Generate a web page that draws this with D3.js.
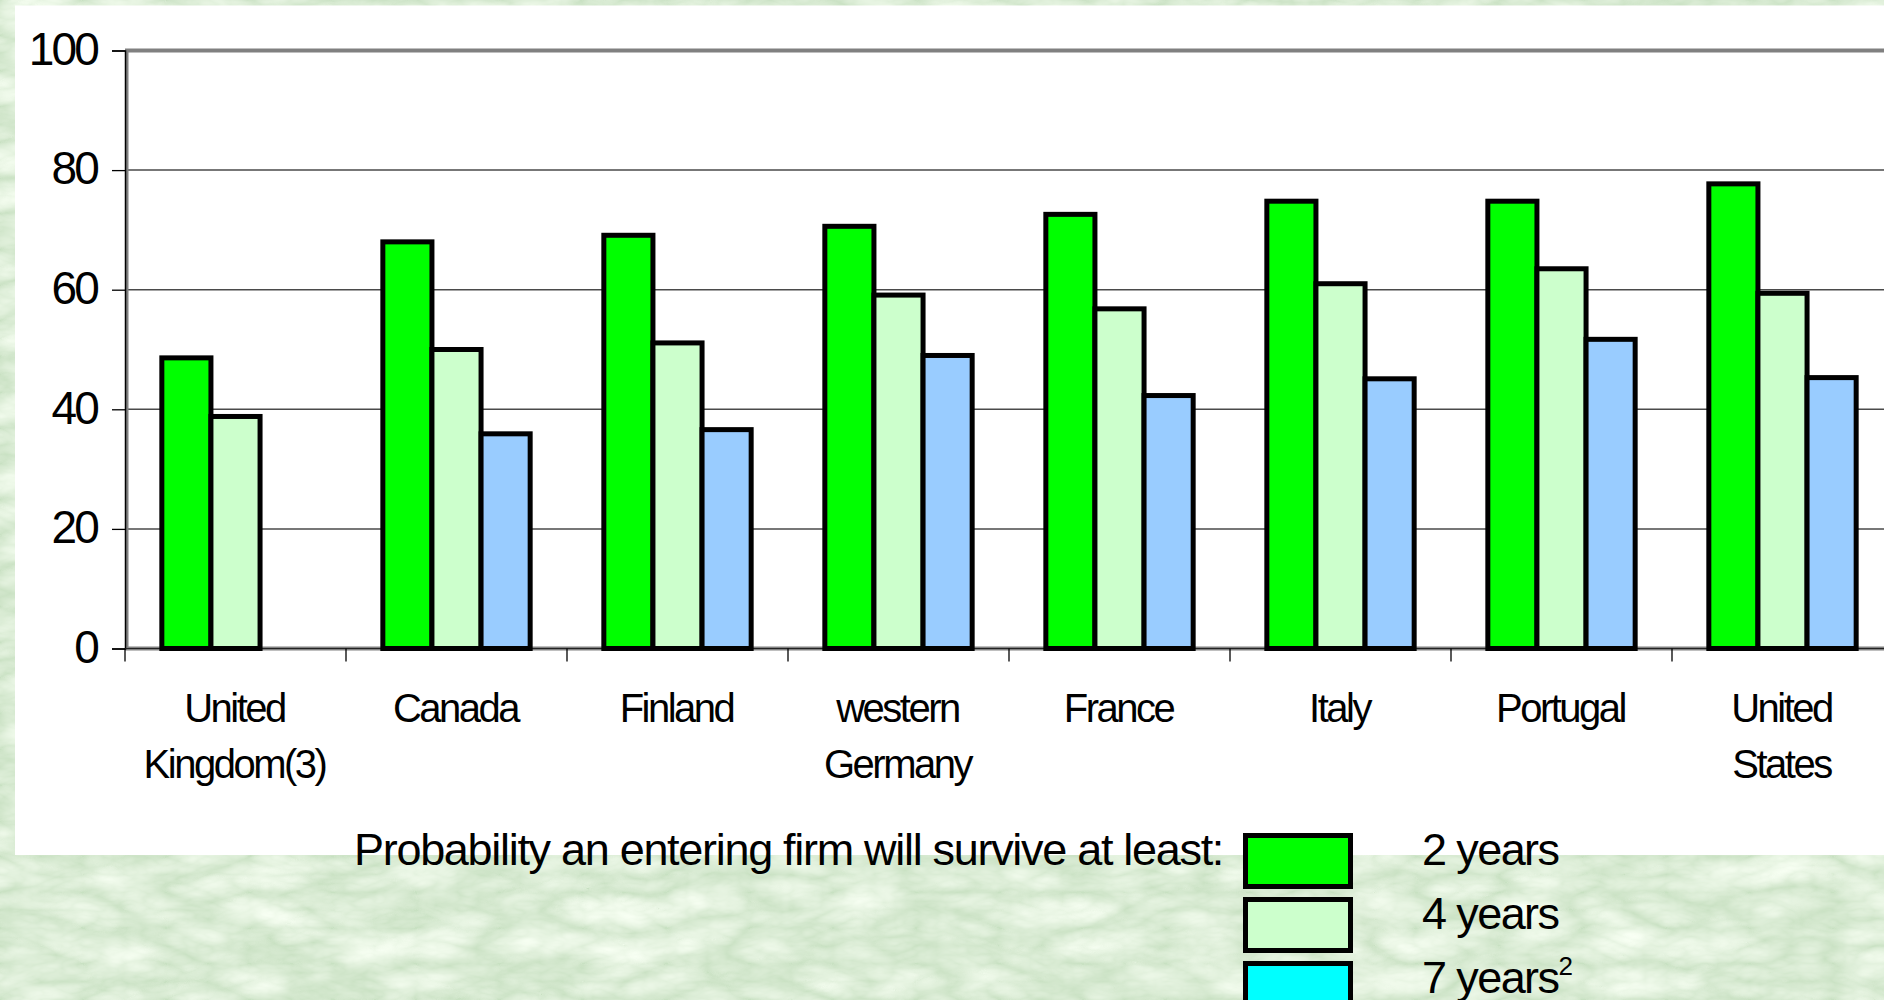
<!DOCTYPE html>
<html>
<head>
<meta charset="utf-8">
<script src="https://cdn.jsdelivr.net/npm/d3@7"></script>
<style>
  html, body { margin: 0; padding: 0; overflow: hidden; background: #b4d4aa; }
  svg { display: block; font-family: "Liberation Sans", Arial, sans-serif; }
</style>
</head>
<body>
<script>
// Survival probabilities of entering firms, by country (percent)
const categories = ["United Kingdom(3)", "Canada", "Finland", "western Germany",
                    "France", "Italy", "Portugal", "United States"];
const series = ["2 years", "4 years", "7 years"];
const surv2 = [48.6, 68.0, 69.1, 70.6, 72.6, 74.8, 74.8, 77.7];
const surv4 = [38.8, 50.0, 51.1, 59.1, 56.8, 61.0, 63.5, 59.4];
const surv7 = [null, 35.9, 36.6, 49.0, 42.3, 45.1, 51.7, 45.3];
const yTicks = [0, 20, 40, 60, 80, 100];
const barColors = ["#00ff00", "#ccffcc", "#99ccff"];
const legendColors = ["#00ff00", "#ccffcc", "#00ffff"];
const legendTitle = "Probability an entering firm will survive at least:";

const values = [surv2, surv4, surv7];
const W = 1884, H = 1000;

const svg = d3.select("body").append("svg").attr("width", W).attr("height", H);

// marbled green backdrop
const defs = svg.append("defs");
const f = defs.append("filter").attr("id", "marble")
  .attr("x", 0).attr("y", 0).attr("width", W).attr("height", H)
  .attr("filterUnits", "userSpaceOnUse");
f.append("feTurbulence").attr("type", "turbulence")
  .attr("baseFrequency", "0.012 0.028").attr("numOctaves", 4).attr("seed", 11).attr("result", "t");
f.append("feColorMatrix").attr("in", "t").attr("type", "matrix")
  .attr("values", "0.45 0 0 0 0.58  0.32 0 0 0 0.75  0.45 0 0 0 0.54  0 0 0 0 1");
svg.append("rect").attr("width", W).attr("height", H).attr("filter", "url(#marble)");

// white chart panel
svg.append("rect").attr("x", 15).attr("y", 5.5).attr("width", W - 15).attr("height", 849.5)
  .attr("fill", "#ffffff");

// scales
const x = d3.scaleBand().domain(categories).range([125, 125 + 8 * 221]);
const xs = d3.scaleBand().domain(series).range([0, x.bandwidth()])
  .paddingInner(0).paddingOuter(0.75);
const y = d3.scaleLinear().domain([0, 100]).range([648.5, 50.5]);
const [x0, x1] = x.range();

// gridlines
svg.append("g").selectAll("line").data(yTicks.filter(t => t > 0 && t < 100)).join("line")
  .attr("x1", x0).attr("x2", x1).attr("y1", d => y(d)).attr("y2", d => y(d))
  .attr("stroke", "#4a4a4a").attr("stroke-width", 1.5);

// plot area frame
const frame = svg.append("g").attr("stroke", "#808080").attr("fill", "none");
frame.append("line").attr("x1", x0).attr("x2", x1).attr("y1", y(100)).attr("y2", y(100)).attr("stroke-width", 4);
frame.append("line").attr("x1", x0 + 2).attr("x2", x0 + 2).attr("y1", y(100)).attr("y2", y(0)).attr("stroke-width", 3);
frame.append("line").attr("x1", x0).attr("x2", x1).attr("y1", y(0)).attr("y2", y(0)).attr("stroke-width", 4);

// y axis
const yAxis = svg.append("g").attr("transform", `translate(${x0},0)`)
  .call(d3.axisLeft(y).tickValues(yTicks).tickSize(13).tickPadding(15));
yAxis.select(".domain").attr("stroke", "#000").attr("stroke-width", 1.5);
yAxis.selectAll(".tick line").attr("stroke", "#000").attr("stroke-width", 1.3);
yAxis.selectAll(".tick text").attr("font-size", 46).attr("letter-spacing", "-2.8px")
  .attr("fill", "#000").attr("font-family", "Liberation Sans, Arial, sans-serif").attr("dy", "0.3em");

// x axis baseline and category boundary ticks
svg.append("line").attr("x1", x0).attr("x2", x1).attr("y1", y(0)).attr("y2", y(0))
  .attr("stroke", "#222").attr("stroke-width", 1);
svg.append("g").selectAll("line").data(categories.map(c => x(c)).concat([x1])).join("line")
  .attr("x1", d => d).attr("x2", d => d).attr("y1", y(0)).attr("y2", y(0) + 13)
  .attr("stroke", "#000").attr("stroke-width", 1.3);

// category labels (two-word names wrap onto two lines)
const lab = svg.append("g").attr("font-size", 40).attr("letter-spacing", "-2.5px")
  .attr("text-anchor", "middle").attr("fill", "#000");
categories.forEach(c => {
  const words = c.split(" ");
  const t = lab.append("text").attr("x", x(c) + x.bandwidth() / 2 - 1).attr("y", y(0) + 73.5);
  words.forEach((w, i) => {
    t.append("tspan").attr("x", x(c) + x.bandwidth() / 2 - 1).attr("dy", i === 0 ? 0 : 56).text(w);
  });
});

// bars
series.forEach((s, i) => {
  const data = categories.map((c, j) => ({ c, v: values[i][j] })).filter(d => d.v != null);
  svg.append("g").selectAll("rect").data(data).join("rect")
    .attr("x", d => x(d.c) + xs(s))
    .attr("y", d => y(d.v))
    .attr("width", xs.bandwidth())
    .attr("height", d => y(0) - y(d.v))
    .attr("fill", barColors[i])
    .attr("stroke", "#000").attr("stroke-width", 5);
});

// legend
svg.append("text").attr("x", 354).attr("y", 865).attr("font-size", 45)
  .attr("letter-spacing", "-1.3px").attr("fill", "#000").text(legendTitle);
const ly = d3.scaleBand().domain(series).range([833, 833 + 3 * 64]);
series.forEach((s, i) => {
  svg.append("rect").attr("x", 1245.5).attr("y", ly(s) + 2.5).attr("width", 105).attr("height", 51)
    .attr("fill", legendColors[i]).attr("stroke", "#000").attr("stroke-width", 5);
  const t = svg.append("text").attr("x", 1422).attr("y", ly(s) + 32).attr("font-size", 45)
    .attr("letter-spacing", "-1.6px").attr("fill", "#000").text(s);
  if (i === 2) t.append("tspan").attr("font-size", 26).attr("dy", -18).text("2");
});
</script>
</body>
</html>
